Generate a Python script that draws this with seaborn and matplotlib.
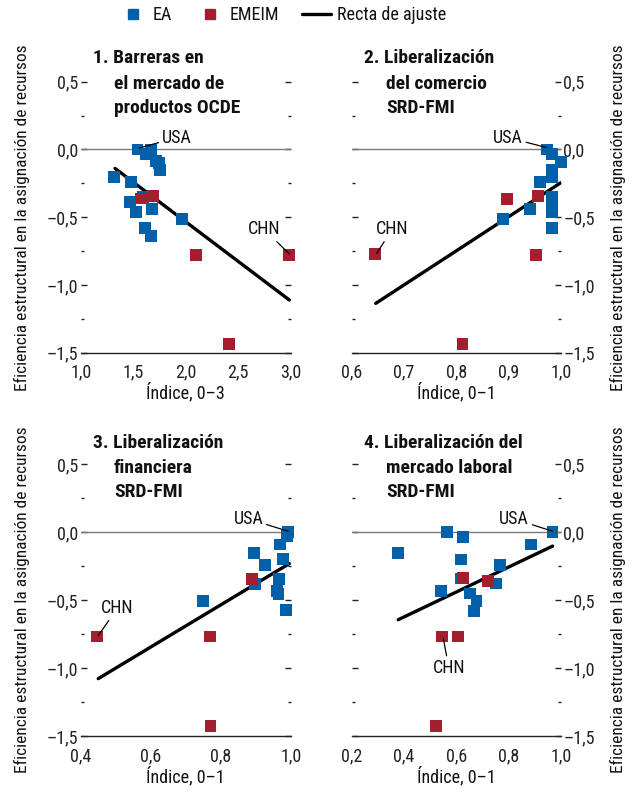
import matplotlib
matplotlib.use('Agg')
import matplotlib.pyplot as plt
import pandas as pd
import seaborn as sns
from matplotlib import font_manager
from matplotlib.lines import Line2D
from matplotlib.ticker import FuncFormatter, MultipleLocator

BLUE = '#0061A9'
RED = '#A51E30'
W, H = 637, 794

# Panel 1: Barreras en el mercado de productos OCDE
p1_ea_x = [1.54, 1.667, 1.622, 1.717, 1.749, 1.756, 1.317, 1.476, 1.59, 1.47, 1.527, 1.676, 1.962, 1.612, 1.667]
p1_ea_y = [0.0, 0.0, -0.035, -0.086, -0.099, -0.153, -0.202, -0.239, -0.349, -0.386, -0.46, -0.44, -0.514, -0.578, -0.637]
p1_em_x = [1.571, 1.686, 2.095, 2.987, 2.412]
p1_em_y = [-0.362, -0.342, -0.779, -0.779, -1.438]
p1_fit_x = [1.327, 2.987]
p1_fit_y = [-0.14, -1.111]

# Panel 2: Liberalizacion del comercio SRD-FMI
p2_ea_x = [0.974, 0.983, 1.0, 0.983, 0.983, 0.96, 0.983, 0.983, 0.983, 0.941, 0.89, 0.983]
p2_ea_y = [0.0, -0.035, -0.091, -0.153, -0.202, -0.239, -0.349, -0.398, -0.46, -0.44, -0.514, -0.578]
p2_em_x = [0.897, 0.956, 0.953, 0.645, 0.812]
p2_em_y = [-0.367, -0.342, -0.779, -0.772, -1.438]
p2_fit_x = [0.646, 1.0]
p2_fit_y = [-1.136, -0.246]

# Panel 3: Liberalizacion financiera SRD-FMI
p3_ea_x = [0.993, 0.99, 0.969, 0.896, 0.927, 0.979, 0.898, 0.967, 0.96, 0.965, 0.987, 0.749]
p3_ea_y = [0.0, -0.03, -0.09, -0.151, -0.241, -0.195, -0.383, -0.346, -0.432, -0.456, -0.571, -0.505]
p3_em_x = [0.889, 0.769, 0.446, 0.771]
p3_em_y = [-0.346, -0.768, -0.768, -1.424]
p3_fit_x = [0.45, 0.996]
p3_fit_y = [-1.078, -0.231]

# Panel 4: Liberalizacion del mercado laboral SRD-FMI
p4_ea_x = [0.969, 0.564, 0.625, 0.885, 0.376, 0.618, 0.768, 0.618, 0.751, 0.542, 0.653, 0.678, 0.669]
p4_ea_y = [0.0, 0.0, -0.037, -0.09, -0.151, -0.2, -0.241, -0.341, -0.378, -0.432, -0.451, -0.505, -0.578]
p4_em_x = [0.625, 0.721, 0.545, 0.608, 0.523]
p4_em_y = [-0.339, -0.358, -0.768, -0.768, -1.424]
p4_fit_x = [0.378, 0.969]
p4_fit_y = [-0.644, -0.102]

Y_LABEL = 'Eficiencia estructural en la asignación de recursos'
FS = 13


def pick_font():
    names = {f.name for f in font_manager.fontManager.ttflist}
    for name in ['Liberation Sans Narrow', 'Roboto Condensed', 'Roboto', 'Liberation Sans', 'DejaVu Sans']:
        if name in names:
            return name
    return 'DejaVu Sans'


def comma_fmt(decimals):
    def fmt(v, _):
        s = f'{v:.{decimals}f}'.replace('.', ',')
        return s.replace('-', '\u2013')
    return FuncFormatter(fmt)


def px_axes(fig, left, right, top, bottom):
    return fig.add_axes([left / W, 1 - bottom / H, (right - left) / W, (bottom - top) / H])


def draw_panel(ax, ea_x, ea_y, em_x, em_y, fit_x, fit_y, xlim, x_major, x_minor, x_label, right_labels):
    df = pd.DataFrame({
        'x': ea_x + em_x,
        'y': ea_y + em_y,
        'grupo': ['EA'] * len(ea_x) + ['EMEIM'] * len(em_x),
    })
    ax.axhline(0, color='#7a7a7a', lw=1.0, zorder=1)
    sns.lineplot(x=fit_x, y=fit_y, ax=ax, color='black', lw=2.4, zorder=2)
    sns.scatterplot(data=df, x='x', y='y', hue='grupo', palette={'EA': BLUE, 'EMEIM': RED},
                    marker='s', s=72, linewidth=0, ax=ax, legend=False, zorder=3, clip_on=False)
    ax.set_xlim(*xlim)
    ax.set_ylim(-1.5, 0.5)
    for side in ['top', 'left', 'right']:
        ax.spines[side].set_visible(False)
    ax.spines['bottom'].set_color('#222222')
    ax.spines['bottom'].set_linewidth(1.0)
    ax.xaxis.set_major_locator(MultipleLocator(x_major))
    ax.xaxis.set_minor_locator(MultipleLocator(x_minor))
    ax.yaxis.set_major_locator(MultipleLocator(0.5))
    ax.yaxis.set_minor_locator(MultipleLocator(0.25))
    ax.xaxis.set_major_formatter(comma_fmt(1))
    ax.yaxis.set_major_formatter(comma_fmt(1))
    ax.tick_params(axis='x', which='major', direction='in', length=4.5, width=1, color='#222222',
                   labelsize=FS, pad=8)
    ax.tick_params(axis='x', which='minor', direction='in', length=3, width=1, color='#222222')
    ax.tick_params(axis='y', which='both', direction='in', left=True, right=True, color='#222222', width=1,
                   labelleft=not right_labels, labelright=right_labels, labelsize=FS, pad=2)
    ax.tick_params(axis='y', which='major', length=4.5)
    ax.tick_params(axis='y', which='minor', length=2)
    ax.set_xlabel(x_label, fontsize=FS, labelpad=1)
    ax.set_ylabel('')
    ax.set_facecolor('none')


def annotate(ax, text, xy, xytext, ha='center'):
    ax.annotate(text, xy=xy, xytext=xytext, fontsize=FS, ha=ha, va='center',
                arrowprops=dict(arrowstyle='-', color='black', lw=0.9, shrinkA=0, shrinkB=0),
                annotation_clip=False)


def title(fig, lines, x1, x2, baselines):
    for i, (line, y) in enumerate(zip(lines, baselines)):
        fig.text((x1 if i == 0 else x2) / W, 1 - y / H, line, fontsize=14, fontweight='bold',
                 ha='left', va='baseline')


def main():
    sns.set_theme(style='white')
    font = pick_font()
    plt.rcParams['font.family'] = [font, 'DejaVu Sans']
    plt.rcParams['text.color'] = '#111111'
    plt.rcParams['xtick.color'] = '#222222'
    plt.rcParams['ytick.color'] = '#222222'
    plt.rcParams['axes.labelcolor'] = '#111111'

    fig = plt.figure(figsize=(W / 100, H / 100), dpi=100)
    fig.patch.set_facecolor('white')

    ax1 = px_axes(fig, 80.7, 290.7, 81.7, 352.7)
    ax2 = px_axes(fig, 351.7, 560.7, 81.7, 352.7)
    ax3 = px_axes(fig, 80.7, 290.7, 464.3, 736.0)
    ax4 = px_axes(fig, 351.7, 560.7, 464.3, 736.0)

    draw_panel(ax1, p1_ea_x, p1_ea_y, p1_em_x, p1_em_y, p1_fit_x, p1_fit_y,
               (1.0, 3.0), 0.5, 0.25, 'Índice, 0\u20133', False)
    draw_panel(ax2, p2_ea_x, p2_ea_y, p2_em_x, p2_em_y, p2_fit_x, p2_fit_y,
               (0.6, 1.0), 0.1, 0.05, 'Índice, 0\u20131', True)
    draw_panel(ax3, p3_ea_x, p3_ea_y, p3_em_x, p3_em_y, p3_fit_x, p3_fit_y,
               (0.4, 1.0), 0.2, 0.1, 'Índice, 0\u20131', False)
    draw_panel(ax4, p4_ea_x, p4_ea_y, p4_em_x, p4_em_y, p4_fit_x, p4_fit_y,
               (0.2, 1.0), 0.2, 0.1, 'Índice, 0\u20131', True)

    annotate(ax1, 'USA', (1.556, 0.01), (1.914, 0.088))
    annotate(ax1, 'CHN', (2.987, -0.772), (2.749, -0.59))
    annotate(ax2, 'USA', (0.972, 0.015), (0.899, 0.088))
    annotate(ax2, 'CHN', (0.648, -0.767), (0.677, -0.59))
    annotate(ax3, 'USA', (0.993, 0.007), (0.879, 0.098))
    annotate(ax3, 'CHN', (0.45, -0.761), (0.505, -0.56))
    annotate(ax4, 'USA', (0.969, 0.007), (0.822, 0.098))
    annotate(ax4, 'CHN', (0.551, -0.785), (0.572, -1.0))

    title(fig, ['1. Barreras en', 'el mercado de', 'productos OCDE'], 93, 114, [63, 89, 113])
    title(fig, ['2. Liberalización', 'del comercio', 'SRD-FMI'], 364, 386, [63, 89, 113])
    title(fig, ['3. Liberalización', 'financiera', 'SRD-FMI'], 93, 114, [448, 473, 497])
    title(fig, ['4. Liberalización del', 'mercado laboral', 'SRD-FMI'], 364, 386, [448, 473, 497])

    for x, y in [(22, 218), (618, 218), (22, 600), (618, 600)]:
        fig.text(x / W, 1 - y / H, Y_LABEL, rotation=90, ha='center', va='center', fontsize=12.5)

    handles = [
        Line2D([], [], marker='s', color=BLUE, linestyle='none', markersize=7),
        Line2D([], [], marker='s', color=RED, linestyle='none', markersize=7),
        Line2D([], [], color='black', lw=2.4),
    ]
    fig.legend(handles, ['EA', 'EMEIM', 'Recta de ajuste'], loc='center', ncol=3,
               bbox_to_anchor=(282 / W, 1 - 15 / H), frameon=False, fontsize=FS,
               handlelength=1.6, handletextpad=0.3, columnspacing=1.3, borderpad=0.1)

    fig.savefig('out.png', dpi=100, facecolor='white')
    plt.close(fig)


if __name__ == '__main__':
    main()
